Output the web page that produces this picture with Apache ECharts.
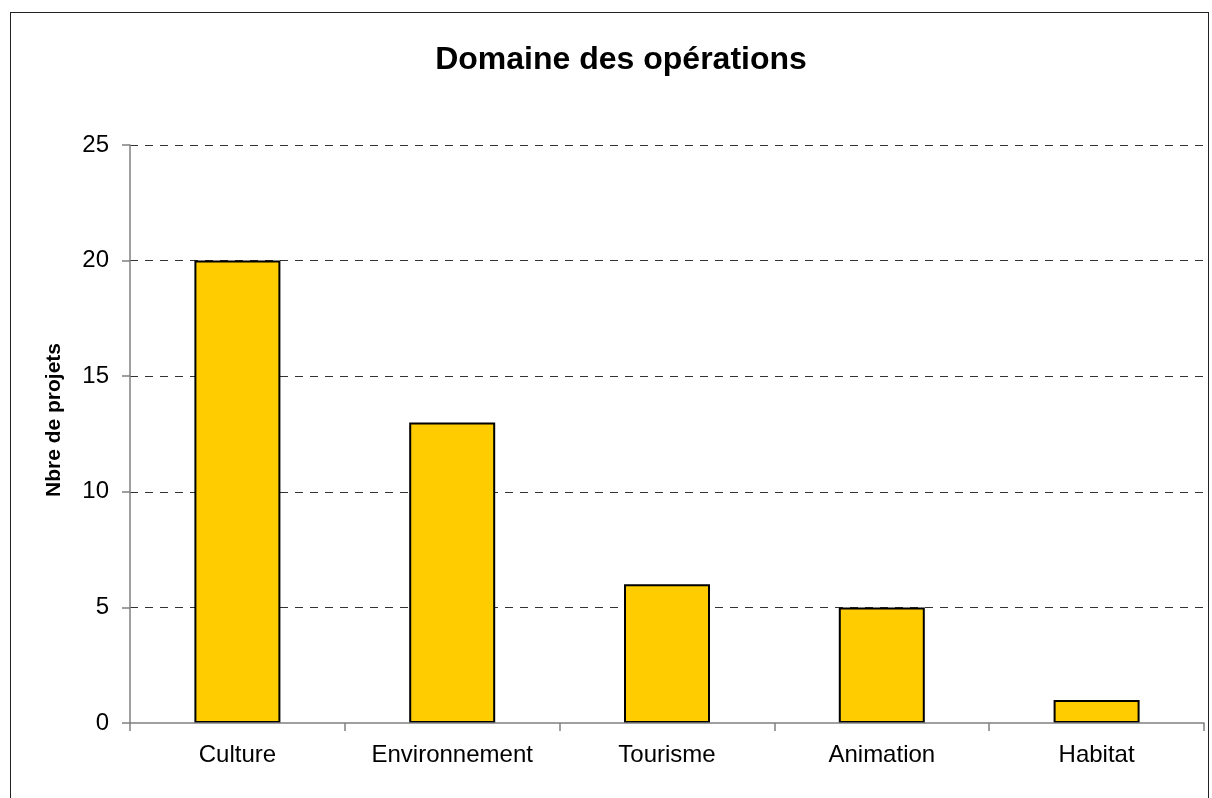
<!DOCTYPE html>
<html>
<head>
<meta charset="utf-8">
<script src="https://cdn.jsdelivr.net/npm/echarts@6/dist/echarts.min.js"></script>
<style>
  html, body { margin: 0; padding: 0; background: #fff; }
  #chart { width: 1212px; height: 798px; position: relative; }
  .frame {
    position: absolute; left: 10px; top: 12px; width: 1199px; height: 800px;
    border: 1.5px solid #222; box-sizing: border-box; pointer-events: none;
  }
</style>
</head>
<body>
<div id="chart"></div>
<div class="frame"></div>
<script>
var categories = ['Culture', 'Environnement', 'Tourisme', 'Animation', 'Habitat']
var projets = [20, 13, 6, 5, 1]
var yTicks = [0, 5, 10, 15, 20, 25]

var chart = echarts.init(document.getElementById('chart'))
var font = 'Arial, "Liberation Sans", sans-serif'

var option = {
  animation: false,
  title: {
    text: 'Domaine des opérations',
    left: 616,
    top: 39,
    textAlign: 'center',
    textStyle: { fontFamily: font, fontSize: 32, fontWeight: 'bold', color: '#000' }
  },
  grid: { left: 130, right: 8, top: 145, bottom: 75 },
  xAxis: {
    type: 'category',
    data: categories,
    z: 5,
    axisLine: { lineStyle: { color: '#808080', width: 1.5 } },
    axisTick: { show: true, length: 8, lineStyle: { color: '#808080', width: 1.5 } },
    axisLabel: { color: '#000', fontFamily: font, fontSize: 24, margin: 20 }
  },
  yAxis: {
    type: 'value',
    min: yTicks[0],
    max: yTicks[yTicks.length - 1],
    interval: 5,
    name: 'Nbre de projets',
    nameLocation: 'middle',
    nameGap: 65,
    nameTextStyle: {
      fontFamily: font, fontSize: 21, fontWeight: 'bold', color: '#000',
      padding: [0, 0, 0, 28]
    },
    axisLine: { show: true, lineStyle: { color: '#808080', width: 1.5 } },
    axisTick: { show: true, length: 8, lineStyle: { color: '#808080', width: 1.5 } },
    axisLabel: { color: '#000', fontFamily: font, fontSize: 24, margin: 21 },
    splitLine: { showMinLine: false, lineStyle: { color: '#333', width: 1, type: [8, 7] } }
  },
  series: [
    {
      type: 'bar',
      data: projets,
      barWidth: 86,
      itemStyle: { color: '#FFCC00', borderColor: '#000', borderWidth: 2 }
    }
  ]
}
chart.setOption(option)
</script>
</body>
</html>
